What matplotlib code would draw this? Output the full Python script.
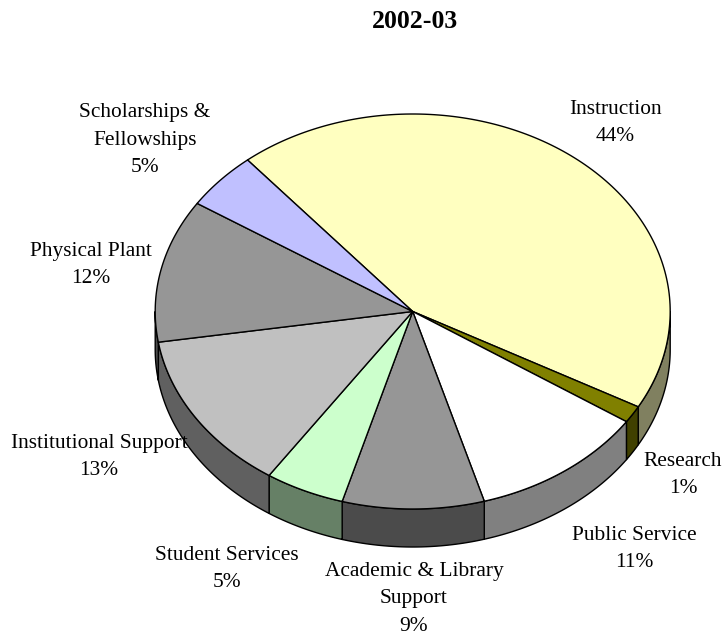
import numpy as np
import matplotlib
matplotlib.use('Agg')
import matplotlib.pyplot as plt
from matplotlib.patches import Polygon

# porcentajes (en orden horario desde Instruction)
categories = ['Instruction', 'Research', 'Public Service', 'Academic & Library\nSupport',
              'Student Services', 'Institutional Support', 'Physical Plant',
              'Scholarships &\nFellowships']
values = [44.1, 1.4, 11.1, 8.9, 5.0, 13.1, 11.7, 4.7]
pct_labels = ['44%', '1%', '11%', '9%', '5%', '13%', '12%', '5%']
top_colors = ['#FFFFC0', '#808000', '#FFFFFF', '#969696', '#CCFFCC', '#C0C0C0', '#969696', '#C0C0FF']
side_colors = ['#808060', '#404000', '#808080', '#4B4B4B', '#668066', '#606060', '#4B4B4B', '#606080']
label_x = [615, 683, 634, 414, 227, 99, 91, 145]
label_y = [123, 475, 549, 599, 569, 457, 265, 140]

plt.rcParams['font.family'] = ['Liberation Serif', 'DejaVu Serif']

cx, cy = 412.7, 311.5
rx, ry = 257.5, 197.5
depth = 38
start = -39.9


def ell(a):
    a = np.radians(a)
    return cx + rx * np.sin(a), cy - ry * np.cos(a)


fig = plt.figure(figsize=(7.24, 6.36), dpi=100)
ax = fig.add_axes([0, 0, 1, 1])
ax.set_xlim(0, 724)
ax.set_ylim(636, 0)
ax.axis('off')

angles = start + np.cumsum([0] + values) * 360 / sum(values)

# paredes laterales (solo la parte frontal, 90 a 270 grados)
for i in range(len(values)):
    for shift in (0, 360):
        a0 = max(angles[i] + shift, 90)
        a1 = min(angles[i + 1] + shift, 270)
        if a1 <= a0:
            continue
        t = np.linspace(a0, a1, 80)
        x, y = ell(t)
        xs = np.concatenate([x, x[::-1]])
        ys = np.concatenate([y, y[::-1] + depth])
        ax.add_patch(Polygon(np.column_stack([xs, ys]), closed=True, fc=side_colors[i],
                             ec='black', lw=1, joinstyle='round', zorder=2))

# caras superiores
for i in range(len(values)):
    t = np.linspace(angles[i], angles[i + 1], 150)
    x, y = ell(t)
    xs = np.concatenate([[cx], x])
    ys = np.concatenate([[cy], y])
    ax.add_patch(Polygon(np.column_stack([xs, ys]), closed=True, fc=top_colors[i],
                         ec='black', lw=1, joinstyle='round', zorder=3))

for i in range(len(categories)):
    ax.text(label_x[i], label_y[i], categories[i] + '\n' + pct_labels[i], ha='center', va='center',
            ma='center', fontsize=15.4, linespacing=1.6, color='black', zorder=4)

ax.text(415, 22, '2002-03', ha='center', va='center', fontsize=18.5, fontweight='bold')

fig.savefig('out.png', dpi=100)
